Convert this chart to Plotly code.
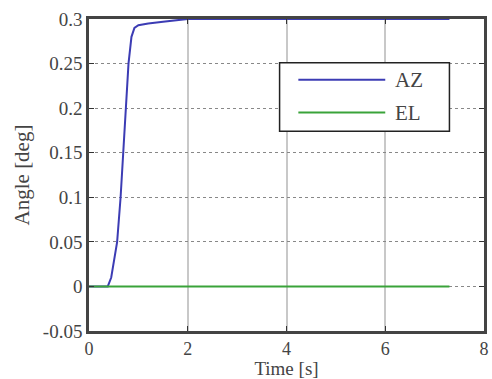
import plotly.graph_objects as go

# Data
t_az = [0, 0.38, 0.45, 0.5, 0.57, 0.64, 0.69, 0.74, 0.8, 0.86, 0.92, 1.0, 1.2, 1.5, 2.0, 7.3]
az = [0, 0, 0.01, 0.025, 0.05, 0.1, 0.15, 0.2, 0.25, 0.28, 0.29, 0.293, 0.295, 0.297, 0.3, 0.3]
t_el = [0, 7.3]
el = [0, 0]
series_names = ["AZ", "EL"]
x_ticks = [0, 2, 4, 6, 8]
y_ticks = [-0.05, 0, 0.05, 0.1, 0.15, 0.2, 0.25, 0.3]
y_ticklabels = ["-0.05", "0", "0.05", "0.1", "0.15", "0.2", "0.25", "0.3"]

FONT = "Liberation Serif"
BLUE = "#3c3cb4"
GREEN = "#3aa33a"

fig = go.Figure()
fig.add_trace(go.Scatter(x=t_az, y=az, mode="lines", name=series_names[0],
                         line=dict(color=BLUE, width=2), showlegend=False))
fig.add_trace(go.Scatter(x=t_el, y=el, mode="lines", name=series_names[1],
                         line=dict(color=GREEN, width=2), showlegend=False))

# Manual legend (MATLAB-style box)
lx0, lx1, ly0, ly1 = 0.4825, 0.9125, 0.64, 0.86
fig.add_shape(type="rect", xref="paper", yref="paper", x0=lx0, x1=lx1, y0=ly0, y1=ly1,
              line=dict(color="#222", width=1.5), fillcolor="white", layer="above")
for i, (name, col) in enumerate(zip(series_names, [BLUE, GREEN])):
    yy = 0.805 - i * 0.105
    fig.add_shape(type="line", xref="paper", yref="paper", x0=0.53, x1=0.75, y0=yy, y1=yy,
                  line=dict(color=col, width=2), layer="above")
    fig.add_annotation(xref="paper", yref="paper", x=0.77, y=yy, text=name, showarrow=False,
                       xanchor="left", yanchor="middle", font=dict(family=FONT, size=21, color="#444"))

fig.update_layout(
    width=492, height=379,
    margin=dict(l=89, r=3, t=19, b=46),
    paper_bgcolor="white", plot_bgcolor="white",
    font=dict(family=FONT, size=18, color="#444"),
)
fig.update_xaxes(range=[0, 8], tickvals=x_ticks, ticks="inside", ticklen=5, tickcolor="#333",
                 showline=True, linecolor="#444", linewidth=2.5, mirror="ticks",
                 showgrid=True, gridcolor="#c8c8c8", gridwidth=1.5, griddash="solid",
                 zeroline=False, title=dict(text="Time [s]", standoff=3, font=dict(size=19)))
fig.update_yaxes(range=[-0.05, 0.3], tickvals=y_ticks, ticktext=y_ticklabels, ticks="inside",
                 ticklen=5, tickcolor="#333", tickfont=dict(size=19),
                 showline=True, linecolor="#444", linewidth=2.5, mirror="ticks",
                 showgrid=True, gridcolor="#888", gridwidth=1, griddash="dot",
                 zeroline=False, title=dict(text="Angle [deg]", standoff=8, font=dict(size=21)))

fig.write_html("out.html")
